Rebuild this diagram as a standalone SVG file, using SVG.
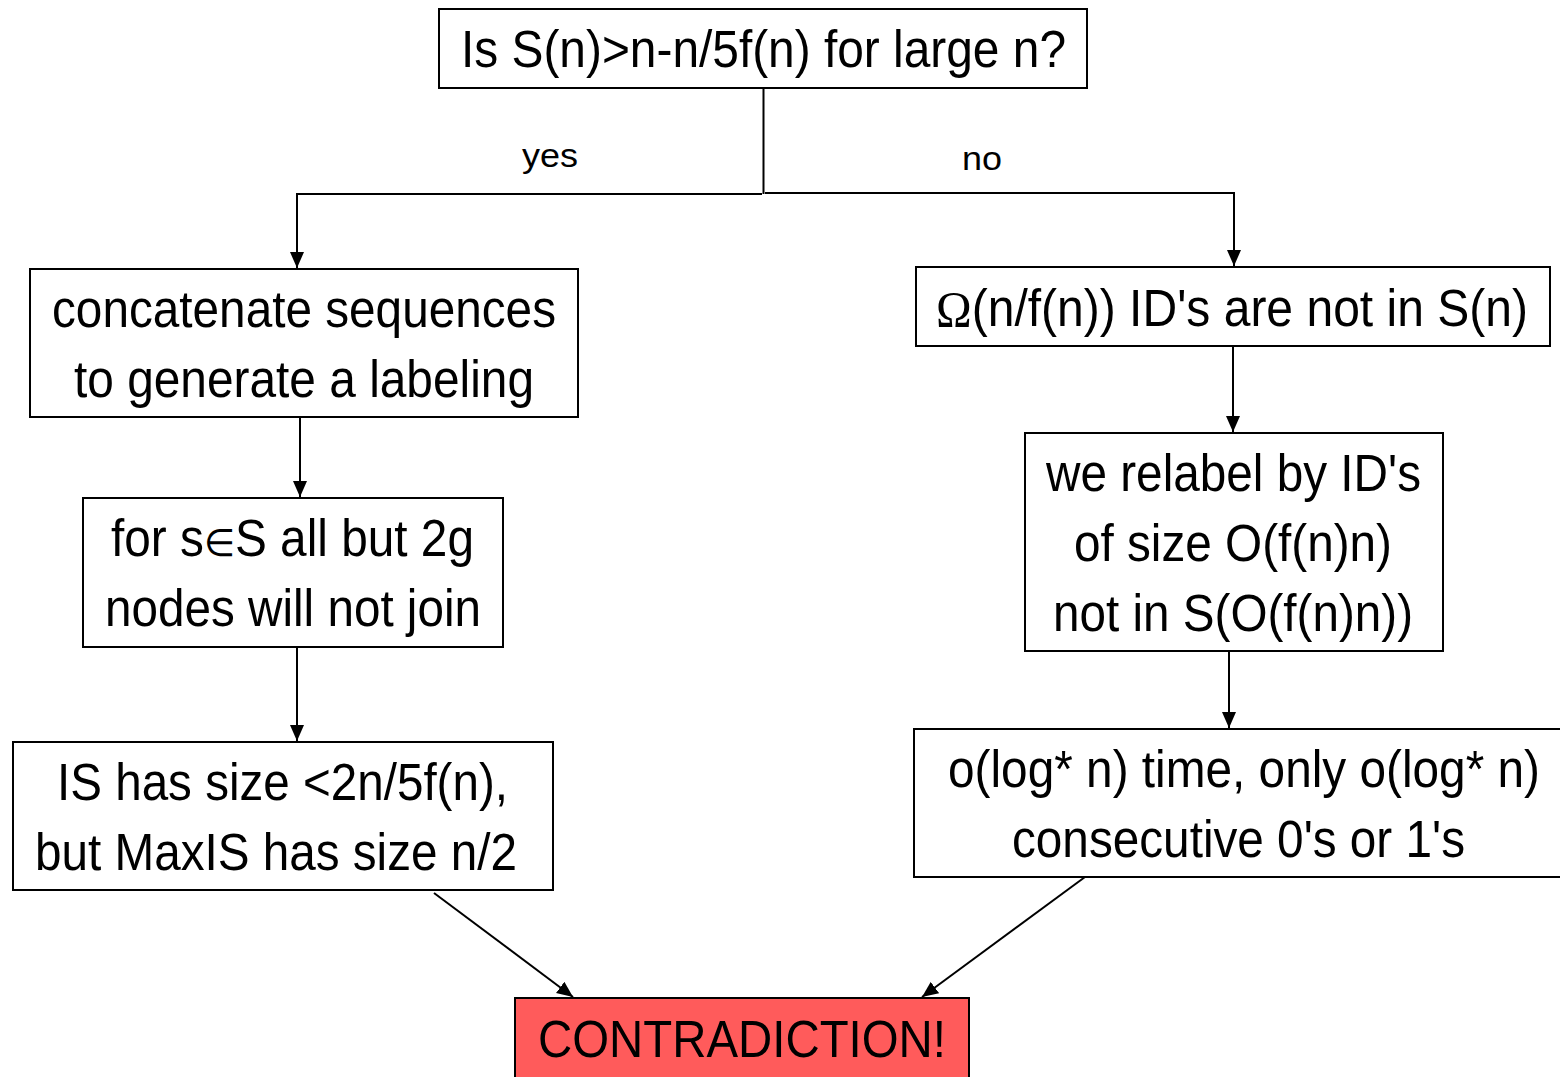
<svg xmlns="http://www.w3.org/2000/svg" width="1560" height="1077" viewBox="0 0 1560 1077">
<style>
.box{fill:#fff;stroke:#000;stroke-width:2}
.red{fill:#FF5B5B;stroke:#000;stroke-width:2}
.t{font-family:"Liberation Sans",Arial,sans-serif;font-size:51px;fill:#000;text-anchor:middle}
.s{font-family:"Liberation Sans",Arial,sans-serif;font-size:34px;fill:#000;text-anchor:middle}
.sym{font-family:"Liberation Serif","Times New Roman",serif}
.el{font-family:"DejaVu Sans",sans-serif;font-size:38px}
.c{fill:none;stroke:#000;stroke-width:2}
</style>
<defs>
<marker id="ah" markerUnits="userSpaceOnUse" markerWidth="16" markerHeight="16" viewBox="0 0 16 16" refX="16" refY="8" orient="auto">
<path d="M0,1 L16,8 L0,15 Z" fill="#000"/>
</marker>
</defs>
<g id="connectors">
<path class="c" d="M763.5,88 V194"/>
<path class="c" d="M762,194 H297 V268" marker-end="url(#ah)"/>
<path class="c" d="M765,193 H1234 V266" marker-end="url(#ah)"/>
<path class="c" d="M300,417 V497" marker-end="url(#ah)"/>
<path class="c" d="M297,647 V741" marker-end="url(#ah)"/>
<path class="c" d="M1233,346 V432" marker-end="url(#ah)"/>
<path class="c" d="M1229,651 V728" marker-end="url(#ah)"/>
<path class="c" d="M434,893 L573,997" marker-end="url(#ah)"/>
<path class="c" d="M1085,877 L922,997" marker-end="url(#ah)"/>
<text class="s" x="550" y="167" textLength="56" lengthAdjust="spacingAndGlyphs">yes</text>
<text class="s" x="982" y="170" textLength="40" lengthAdjust="spacingAndGlyphs">no</text>
</g>
<g id="n-question">
<rect class="box" x="439" y="9" width="648" height="79"/>
<text class="t" x="763.5" y="67" textLength="605" lengthAdjust="spacingAndGlyphs">Is S(n)&gt;n-n/5f(n) for large n?</text>
</g>
<g id="n-concat">
<rect class="box" x="30" y="269" width="548" height="148"/>
<text class="t" x="304" y="327" textLength="504" lengthAdjust="spacingAndGlyphs">concatenate sequences</text>
<text class="t" x="304" y="397" textLength="460" lengthAdjust="spacingAndGlyphs">to generate a labeling</text>
</g>
<g id="n-join">
<rect class="box" x="83" y="498" width="420" height="149"/>
<text class="t" x="292.5" y="556" textLength="363" lengthAdjust="spacingAndGlyphs">for s<tspan class="el">∈</tspan>S all but 2g</text>
<text class="t" x="293" y="626" textLength="376" lengthAdjust="spacingAndGlyphs">nodes will not join</text>
</g>
<g id="n-is">
<rect class="box" x="13" y="742" width="540" height="148"/>
<text class="t" x="282.5" y="800" textLength="451" lengthAdjust="spacingAndGlyphs">IS has size &lt;2n/5f(n),</text>
<text class="t" x="276" y="870" textLength="482" lengthAdjust="spacingAndGlyphs">but MaxIS has size n/2</text>
</g>
<g id="n-omega">
<rect class="box" x="916" y="267" width="634" height="79"/>
<text class="t" x="1232" y="326" textLength="592" lengthAdjust="spacingAndGlyphs"><tspan class="sym">Ω</tspan>(n/f(n)) ID's are not in S(n)</text>
</g>
<g id="n-relabel">
<rect class="box" x="1025" y="433" width="418" height="218"/>
<text class="t" x="1233.5" y="491" textLength="375" lengthAdjust="spacingAndGlyphs">we relabel by ID's</text>
<text class="t" x="1233" y="561" textLength="318" lengthAdjust="spacingAndGlyphs">of size O(f(n)n)</text>
<text class="t" x="1233" y="631" textLength="360" lengthAdjust="spacingAndGlyphs">not in S(O(f(n)n))</text>
</g>
<g id="n-log">
<rect class="box" x="914" y="729" width="660" height="148"/>
<text class="t" x="1244" y="787" textLength="592" lengthAdjust="spacingAndGlyphs">o(log* n) time, only o(log* n)</text>
<text class="t" x="1238.5" y="857" textLength="453" lengthAdjust="spacingAndGlyphs">consecutive 0's or 1's</text>
</g>
<g id="n-contradiction">
<rect class="red" x="515" y="998" width="454" height="100"/>
<text class="t" x="742" y="1057" textLength="408" lengthAdjust="spacingAndGlyphs">CONTRADICTION!</text>
</g>
</svg>
